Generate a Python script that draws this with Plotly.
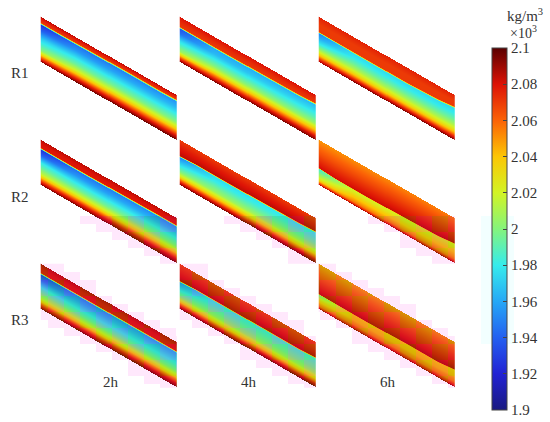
import numpy as np
import plotly.graph_objects as go

# pixel layout of the picture
COL_X = [41, 180, 319]
ROW_Y = [17, 140, 264]
BAND_W = 135
BAND_H = 45
SLOPE = 0.578
CELL = 0.5

ROW_NAMES = ['R1', 'R2', 'R3']
TIME_NAMES = ['2h', '4h', '6h']
TICK_VALS = [1.9, 1.92, 1.94, 1.96, 1.98, 2, 2.02, 2.04, 2.06, 2.08, 2.1]
TICK_TEXT = ['1.9', '1.92', '1.94', '1.96', '1.98', '2', '2.02', '2.04', '2.06', '2.08', '2.1']
COLOR_STOPS = ['#1a1a80', '#2222d4', '#2360f0', '#25a8f6', '#35ecec', '#84f47c',
               '#d2f424', '#fcc604', '#fb6206', '#dc1206', '#5a0000']

# along-band positions of the tables below
FRONT_ST = [0, 0.12, 0.35, 0.65, 0.88, 1]
TABLE_ST = [0, 0.25, 1]
UPPER_T = [0, 0.5, 1]
LOWER_T = [0.05, 0.2, 0.4, 0.55, 0.7, 0.8, 0.9, 1]

# depth of the wetting front below the top edge (px), row by time
FRONT = [
    [[6, 6, 5.5, 5, 5, 4.5], [10, 10, 10, 9.5, 9, 8], [15, 15, 15, 15, 13.5, 11.5]],
    [[8, 8, 8, 7.5, 7, 7], [16, 15, 15, 14.5, 14, 13], [28, 29, 29, 28, 27, 25]],
    [[9, 9, 9, 9, 9, 9], [17, 16, 16, 16, 16, 15], [30, 30, 30, 29, 29, 27]],
]
# density above the front (left end, right end)
UPPER = [
    [[[2.085, 2.076, 2.07], [2.085, 2.076, 2.07]],
     [[2.08, 2.074, 2.07], [2.08, 2.074, 2.07]],
     [[2.076, 2.07, 2.07], [2.076, 2.07, 2.07]]],
    [[[2.085, 2.08, 2.078], [2.085, 2.08, 2.078]],
     [[2.07, 2.078, 2.085], [2.07, 2.078, 2.085]],
     [[2.05, 2.065, 2.082], [2.055, 2.07, 2.085]]],
    [[[2.085, 2.08, 2.078], [2.085, 2.08, 2.078]],
     [[2.068, 2.076, 2.085], [2.068, 2.076, 2.085]],
     [[2.048, 2.065, 2.084], [2.052, 2.07, 2.086]]],
]
# density below the front at the three table stations
LOWER = [
    [[[1.925, 1.94, 1.97, 1.985, 2.0, 2.03, 2.065, 2.095],
      [1.945, 1.955, 1.98, 1.995, 2.02, 2.045, 2.075, 2.097],
      [1.955, 1.965, 1.985, 2.0, 2.03, 2.055, 2.08, 2.098]],
     [[1.935, 1.945, 1.975, 1.99, 2.005, 2.035, 2.07, 2.095],
      [1.96, 1.965, 1.985, 2.0, 2.025, 2.05, 2.075, 2.095],
      [1.965, 1.975, 1.99, 2.005, 2.035, 2.055, 2.08, 2.095]],
     [[1.95, 1.96, 1.98, 2.0, 2.025, 2.045, 2.07, 2.09],
      [1.975, 1.98, 1.995, 2.01, 2.03, 2.05, 2.075, 2.095],
      [1.975, 1.98, 1.995, 2.01, 2.03, 2.05, 2.075, 2.095]]],
    [[[1.925, 1.94, 1.98, 1.995, 2.015, 2.04, 2.07, 2.095],
      [1.945, 1.955, 1.98, 1.995, 2.02, 2.045, 2.075, 2.095],
      [1.955, 1.965, 1.985, 2.0, 2.03, 2.055, 2.08, 2.095]],
     [[1.95, 1.965, 1.985, 2.0, 2.025, 2.05, 2.075, 2.095],
      [1.975, 1.98, 1.995, 2.005, 2.03, 2.05, 2.075, 2.095],
      [1.98, 1.985, 1.995, 2.01, 2.035, 2.055, 2.08, 2.095]],
     [[1.985, 1.99, 2.005, 2.015, 2.03, 2.045, 2.065, 2.09],
      [2.02, 2.025, 2.035, 2.042, 2.05, 2.056, 2.07, 2.09],
      [2.025, 2.03, 2.038, 2.044, 2.05, 2.056, 2.07, 2.09]]],
    [[[1.93, 1.945, 1.98, 1.995, 2.015, 2.04, 2.07, 2.095],
      [1.95, 1.96, 1.98, 1.995, 2.02, 2.045, 2.075, 2.095],
      [1.96, 1.97, 1.985, 2.0, 2.03, 2.055, 2.08, 2.095]],
     [[1.955, 1.965, 1.985, 2.0, 2.025, 2.05, 2.075, 2.095],
      [1.98, 1.985, 1.995, 2.005, 2.03, 2.05, 2.075, 2.095],
      [1.985, 1.99, 1.998, 2.01, 2.035, 2.055, 2.08, 2.095]],
     [[2.0, 2.01, 2.03, 2.04, 2.05, 2.055, 2.07, 2.09],
      [2.04, 2.042, 2.044, 2.05, 2.055, 2.065, 2.075, 2.09],
      [2.04, 2.042, 2.044, 2.05, 2.055, 2.065, 2.075, 2.09]]],
]

# lower part of the picture has blocky compression colour shifts
BLOCK_W = 16
BLOCK_H = 16
HALO_H = 8
BLOCK_Y_OFF = 8
BLOCK_TOP = 216

colorscale = [[i / (len(COLOR_STOPS) - 1), c] for i, c in enumerate(COLOR_STOPS)]


def band_field(row, col):
    x0, y0 = COL_X[col], ROW_Y[row]
    xs = np.arange(x0, x0 + BAND_W + CELL, CELL)
    ys = np.arange(y0, y0 + BAND_H + SLOPE * BAND_W + CELL, CELL)
    upper = np.array(UPPER[row][col])
    lower = np.array(LOWER[row][col])
    z = np.full((len(ys), len(xs)), np.nan)
    for i, x in enumerate(xs):
        f = (x - x0) / BAND_W
        top = y0 + SLOPE * (x - x0)
        front = np.interp(f, FRONT_ST, FRONT[row][col])
        up = [np.interp(f, [0, 1], upper[:, k]) for k in range(upper.shape[1])]
        low = [np.interp(f, TABLE_ST, lower[:, k]) for k in range(lower.shape[1])]
        depth = ys - top
        inside = (depth >= 0) & (depth <= BAND_H)
        above = inside & (depth < front)
        below = inside & (depth >= front)
        z[above, i] = np.interp(depth[above] / front, UPPER_T, up)
        t = (depth[below] - front) / (BAND_H - front)
        z[below, i] = np.interp(t, [0] + LOWER_T, [up[-1]] + low)
    return xs, ys, z


def block_layers(xs, ys, z):
    # checker of colour shifted blocks inside the band, pale halo outside it
    bx = np.floor(xs / BLOCK_W).astype(int)
    by = np.floor((ys - BLOCK_Y_OFF) / BLOCK_H).astype(int)
    hy = np.floor((ys - BLOCK_Y_OFF) / HALO_H).astype(int)
    active = ys >= BLOCK_TOP
    inside = ~np.isnan(z)
    parity = (bx[None, :] + by[:, None]) % 2
    shift = np.where(inside & active[:, None], parity.astype(float), np.nan)
    halo = np.full(z.shape, np.nan)
    for j in np.unique(hy):
        rows = (hy == j) & active
        if not rows.any():
            continue
        for i in np.unique(bx):
            cols = bx == i
            cell = np.ix_(rows, cols)
            if inside[cell].any():
                halo[cell] = np.where(inside[cell], np.nan, 1.0)
    return shift, halo


fig = go.Figure()

# pale halo beside the colour bar
fig.add_shape(type='rect', x0=481, x1=514, y0=216, y1=344, line_width=0,
              fillcolor='#f2ffff', layer='below')

for r in range(3):
    for c in range(3):
        xs, ys, z = band_field(r, c)
        shift, halo = block_layers(xs, ys, z)
        fig.add_trace(go.Heatmap(x=xs, y=ys, z=halo, zmin=0, zmax=1, showscale=False, hoverinfo='skip',
                                 colorscale=[[0, '#ffe8fc'], [1, '#ffe8fc']]))
        fig.add_trace(go.Heatmap(x=xs, y=ys, z=z, coloraxis='coloraxis', hoverinfo='skip'))
        fig.add_trace(go.Heatmap(x=xs, y=ys, z=shift, zmin=0, zmax=1, showscale=False, hoverinfo='skip',
                                 opacity=0.15, colorscale=[[0, '#20a000'], [1, '#c000a0']]))

text_font = dict(family='Liberation Serif', size=15, color='#333333')

for name, y in zip(ROW_NAMES, [73, 197, 320]):
    fig.add_annotation(x=20, y=y, text=name, showarrow=False, font=text_font)
for name, x in zip(TIME_NAMES, [111, 249, 388]):
    fig.add_annotation(x=x, y=382, text=name, showarrow=False, font=text_font)

fig.add_annotation(x=525, y=15, text='kg/m<sup>3</sup>', showarrow=False, font=text_font)
fig.add_annotation(x=523, y=32, text='×10<sup>3</sup>', showarrow=False,
                   font=dict(family='Liberation Serif', size=14, color='#333333'))

fig.update_layout(
    width=550, height=422,
    margin=dict(l=0, r=0, t=0, b=0),
    paper_bgcolor='white', plot_bgcolor='white',
    xaxis=dict(range=[0, 550], visible=False, fixedrange=True),
    yaxis=dict(range=[422, 0], visible=False, fixedrange=True),
    coloraxis=dict(
        colorscale=colorscale, cmin=1.9, cmax=2.1,
        colorbar=dict(
            lenmode='pixels', len=362, thicknessmode='pixels', thickness=15,
            x=492 / 550, xanchor='left', xpad=0,
            y=1 - 48 / 422, yanchor='top', ypad=0,
            outlinewidth=1, outlinecolor='#444444',
            tickvals=TICK_VALS, ticktext=TICK_TEXT, tickprefix='\u00a0',
            ticks='inside', ticklen=4, tickcolor='#444444',
            tickfont=dict(family='Liberation Serif', size=15, color='#333333'),
        ),
    ),
)

# the page's default body margin would push the chart off the window
fig.write_html("out.html", config=dict(displayModeBar=False),
               post_script="document.body.style.margin='0';document.body.style.overflow='hidden';")
